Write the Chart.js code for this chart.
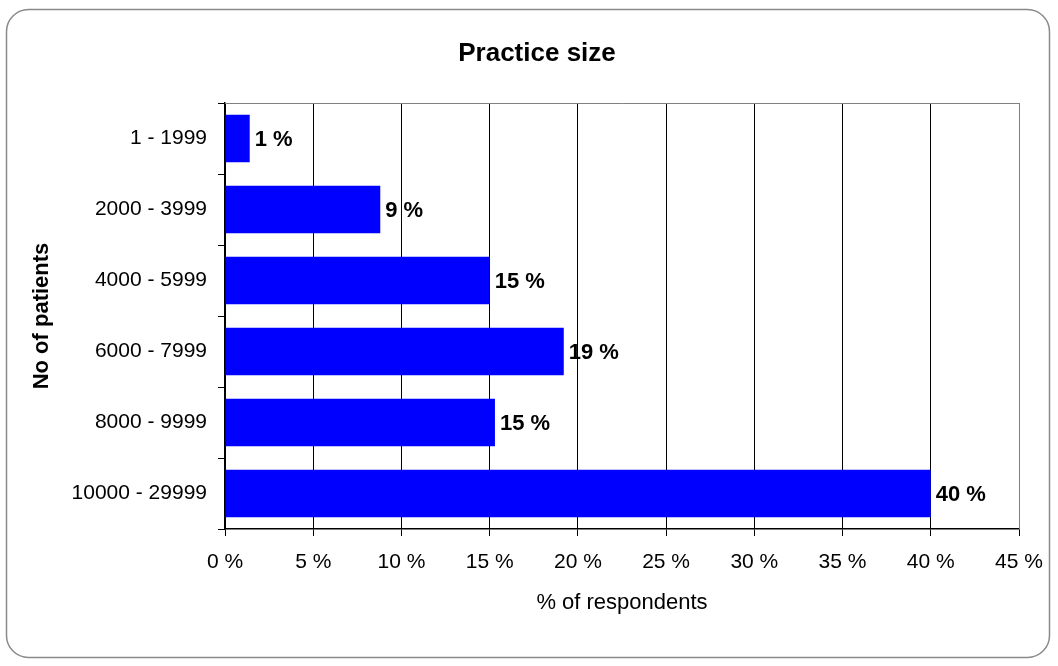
<!DOCTYPE html>
<html lang="en">
<head>
  <meta charset="UTF-8">
  <title>Practice size</title>
  <script src="https://cdn.jsdelivr.net/npm/chart.js"></script>
  <style>
    body {
      margin: 0;
      background: #fff;
    }
    #wrap {
      width: 1058px;
      height: 666px;
    }
  </style>
</head>
<body>

  <div id="wrap">
    <canvas id="sizeChart" width="1058" height="666"></canvas>
  </div>

  <script>
    // Data
    const categories = ['1 - 1999', '2000 - 3999', '4000 - 5999', '6000 - 7999', '8000 - 9999', '10000 - 29999'];
    const respondents = [1.4, 8.8, 15.0, 19.2, 15.3, 40.0];
    const xMin = 0;
    const xMax = 45;
    const xStep = 5;

    const chartTitle = 'Practice size';
    const xTitle = '% of respondents';
    const yTitle = 'No of patients';

    const FONT = "'Liberation Sans', Arial, sans-serif";

    // Frame, titles and value labels
    const decorPlugin = {
      id: 'decor',
      beforeDraw(chart) {
        const ctx = chart.ctx;
        ctx.save();
        ctx.strokeStyle = '#8a8a8a';
        ctx.lineWidth = 1.5;
        ctx.beginPath();
        ctx.roundRect(6.5, 9.5, 1043, 648, 22);
        ctx.stroke();
        ctx.restore();
      },
      afterDatasetsDraw(chart) {
        const ctx = chart.ctx;
        const area = chart.chartArea;
        ctx.save();

        // top and right border of the plot
        ctx.strokeStyle = '#808080';
        ctx.lineWidth = 1;
        ctx.beginPath();
        ctx.moveTo(area.left, area.top + 0.5);
        ctx.lineTo(area.right + 0.5, area.top + 0.5);
        ctx.lineTo(area.right + 0.5, area.bottom);
        ctx.stroke();

        // value labels
        ctx.fillStyle = '#000';
        ctx.font = 'bold 22px ' + FONT;
        ctx.textAlign = 'left';
        ctx.textBaseline = 'middle';
        const meta = chart.getDatasetMeta(0);
        meta.data.forEach((bar, i) => {
          ctx.fillText(Math.round(respondents[i]) + ' %', bar.x + 5, bar.y + 1);
        });

        // titles
        ctx.textAlign = 'center';
        ctx.font = 'bold 26px ' + FONT;
        ctx.fillText(chartTitle, 537, 54);

        ctx.font = '22px ' + FONT;
        ctx.fillText(xTitle, (area.left + area.right) / 2, 603);

        ctx.save();
        ctx.translate(42, (area.top + area.bottom) / 2);
        ctx.rotate(-Math.PI / 2);
        ctx.font = 'bold 22px ' + FONT;
        ctx.fillText(yTitle, 0, 0);
        ctx.restore();

        ctx.restore();
      }
    };

    const ctx = document.getElementById('sizeChart').getContext('2d');
    new Chart(ctx, {
      type: 'bar',
      data: {
        labels: categories,
        datasets: [{
          label: xTitle,
          data: respondents,
          backgroundColor: '#0000ff',
          borderWidth: 0,
          barPercentage: 0.67,
          categoryPercentage: 1
        }]
      },
      options: {
        indexAxis: 'y',
        responsive: false,
        animation: false,
        layout: {
          padding: { top: 103, right: 39, left: 0, bottom: 0 }
        },
        plugins: {
          legend: { display: false },
          title: { display: false },
          tooltip: { enabled: false }
        },
        scales: {
          x: {
            min: xMin,
            max: xMax,
            afterFit(scale) { scale.height = 137; },
            ticks: {
              stepSize: xStep,
              color: '#000',
              padding: 14,
              font: { family: FONT, size: 21 },
              callback: v => v + ' %'
            },
            grid: {
              color: ctx => (ctx.tick && ctx.tick.value === xMax) ? '#808080' : '#000',
              lineWidth: 1,
              tickLength: 7,
              tickColor: '#000'
            },
            border: { color: '#000', width: 1.5 }
          },
          y: {
            afterFit(scale) { scale.width = 225; },
            ticks: {
              color: '#000',
              padding: 11,
              font: { family: FONT, size: 21 }
            },
            grid: {
              drawOnChartArea: false,
              offset: true,
              tickLength: 7,
              tickColor: '#000'
            },
            border: { color: '#000', width: 1.5 }
          }
        }
      },
      plugins: [decorPlugin]
    });
  </script>

</body>
</html>
